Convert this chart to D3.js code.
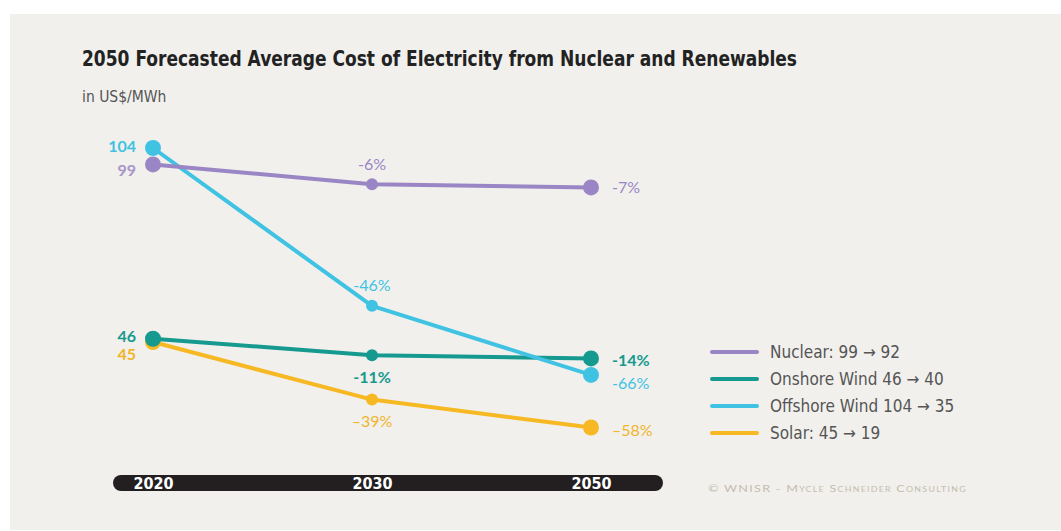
<!DOCTYPE html>
<html>
<head>
<meta charset="utf-8">
<script src="https://cdn.jsdelivr.net/npm/d3@7"></script>
<style>
  html, body { margin: 0; padding: 0; background: #ffffff; }
  svg { display: block; }
</style>
</head>
<body>
<svg id="chart" width="1061" height="531"></svg>
<script>
// Years on the horizontal axis (evenly spaced categories)
const years = ["2020", "2030", "2050"];

// Average cost of electricity, US$/MWh
const nuclear = [99, 93, 92];
const onshoreWind = [46, 41, 40];
const offshoreWind = [104, 56, 35];
const solar = [45, 27.5, 19];

// Change versus 2020, as printed
const nuclearChange = ["", "-6%", "-7%"];
const onshoreChange = ["", "-11%", "-14%"];
const offshoreChange = ["", "-46%", "-66%"];
const solarChange = ["", "\u201339%", "\u201358%"];

const legendLabels = [
  "Nuclear: 99 \u2192 92",
  "Onshore Wind 46 \u2192 40",
  "Offshore Wind 104 \u2192 35",
  "Solar: 45 \u2192 19"
];

const series = [
  { name: "Nuclear", values: nuclear, change: nuclearChange, color: "#9a86c4", text: "#9a86c4", legend: legendLabels[0],
    startDy: 6, midPos: "above", endDy: 0 },
  { name: "Onshore Wind", values: onshoreWind, change: onshoreChange, color: "#16998e", text: "#16998e", legend: legendLabels[1],
    startDy: -2, midPos: "below", endDy: 2, bold: true },
  { name: "Offshore Wind", values: offshoreWind, change: offshoreChange, color: "#40c3e2", text: "#40c3e2", legend: legendLabels[2],
    startDy: -2, midPos: "above", endDy: 8 },
  { name: "Solar", values: solar, change: solarChange, color: "#f6b923", text: "#f0b52a", legend: legendLabels[3],
    startDy: 12, midPos: "below", endDy: 3 }
];

const svg = d3.select("#chart");
const W = 1061, H = 531;

// Panel background
svg.append("rect").attr("x", 10).attr("y", 14).attr("width", W - 10).attr("height", H - 15)
  .attr("fill", "#f1f0ed");

const condensed = "'Liberation Sans Narrow', 'DejaVu Sans Condensed', 'Roboto', sans-serif";
const body = "Lato, 'Open Sans', sans-serif";

// Title and unit
svg.append("text").attr("x", 82).attr("y", 66)
  .attr("font-family", condensed).attr("font-weight", "bold").attr("font-size", 22)
  .attr("fill", "#222").attr("textLength", 715).attr("lengthAdjust", "spacingAndGlyphs")
  .text("2050 Forecasted Average Cost of Electricity from Nuclear and Renewables");
svg.append("text").attr("x", 82).attr("y", 102)
  .attr("font-family", condensed).attr("font-size", 15.5).attr("fill", "#555")
  .text("in US$/MWh");

// Scales
const x = d3.scalePoint().domain(years).range([153, 591]);
const y = d3.scaleLinear().domain([0, 104]).range([490, 148]);

// Axis bar with year labels
svg.append("rect").attr("x", 113).attr("y", 475).attr("width", 550).attr("height", 16)
  .attr("rx", 8).attr("fill", "#231f20");
const xAxis = d3.axisBottom(x).tickSize(0).tickPadding(0);
const axisTicks = svg.append("g").attr("transform", "translate(0,483)").call(xAxis);
axisTicks.select(".domain").remove();
axisTicks.selectAll("text")
  .attr("dy", "0.36em").attr("y", 0)
  .attr("font-family", condensed).attr("font-weight", "bold").attr("font-size", 16)
  .attr("fill", "#ffffff");

const line = d3.line().x((d, i) => x(years[i])).y(d => y(d));

// Lines drawn back to front so the nuclear and offshore lines sit on top
const drawOrder = [series[3], series[1], series[2], series[0]];
drawOrder.forEach(s => {
  const g = svg.append("g");
  g.append("path").datum(s.values).attr("d", line)
    .attr("fill", "none").attr("stroke", s.color).attr("stroke-width", 4)
    .attr("stroke-linejoin", "round");
  g.selectAll("circle").data(s.values).join("circle")
    .attr("cx", (d, i) => x(years[i])).attr("cy", d => y(d))
    .attr("r", (d, i) => i === 1 ? 6 : 8)
    .attr("fill", s.color);
});

// Value and change labels
series.forEach(s => {
  const weight = s.bold ? "bold" : "normal";
  // starting value, to the left of the first point
  svg.append("text")
    .attr("x", x(years[0]) - 17).attr("y", y(s.values[0]) + s.startDy)
    .attr("dy", "0.35em").attr("text-anchor", "end")
    .attr("font-family", body).attr("font-weight", "bold").attr("font-size", 16)
    .attr("fill", s.text).attr("opacity", s.name === "Nuclear" ? 0.85 : 1)
    .text(s.values[0]);
  // change at the middle year
  const my = s.midPos === "above" ? y(s.values[1]) - 20 : y(s.values[1]) + 22;
  svg.append("text")
    .attr("x", x(years[1])).attr("y", my).attr("dy", "0.35em").attr("text-anchor", "middle")
    .attr("font-family", body).attr("font-weight", weight).attr("font-size", 16)
    .attr("fill", s.text).text(s.change[1]);
  // change at the last year
  svg.append("text")
    .attr("x", x(years[2]) + 21).attr("y", y(s.values[2]) + s.endDy).attr("dy", "0.35em")
    .attr("font-family", body).attr("font-weight", weight).attr("font-size", 16)
    .attr("fill", s.text).text(s.change[2]);
});

// Legend
const legend = svg.append("g").attr("transform", "translate(712,352)");
series.forEach((s, i) => {
  const row = legend.append("g").attr("transform", `translate(0,${i * 27})`);
  row.append("line").attr("x1", 0).attr("x2", 45).attr("y1", 0).attr("y2", 0)
    .attr("stroke", s.color).attr("stroke-width", 4).attr("stroke-linecap", "round");
  row.append("text").attr("x", 58).attr("y", 0).attr("dy", "0.35em")
    .attr("font-family", condensed).attr("font-size", 17).attr("fill", "#555")
    .text(s.legend);
});

// Credit line in small caps
svg.append("text").attr("x", 708).attr("y", 488).attr("dy", "0.35em")
  .attr("font-family", body).attr("font-size", 10).attr("fill", "#c4bcae")
  .attr("letter-spacing", 1)
  .style("font-variant", "small-caps")
  .attr("textLength", 259).attr("lengthAdjust", "spacingAndGlyphs")
  .text("\u00a9 WNISR - Mycle Schneider Consulting");
</script>
</body>
</html>
